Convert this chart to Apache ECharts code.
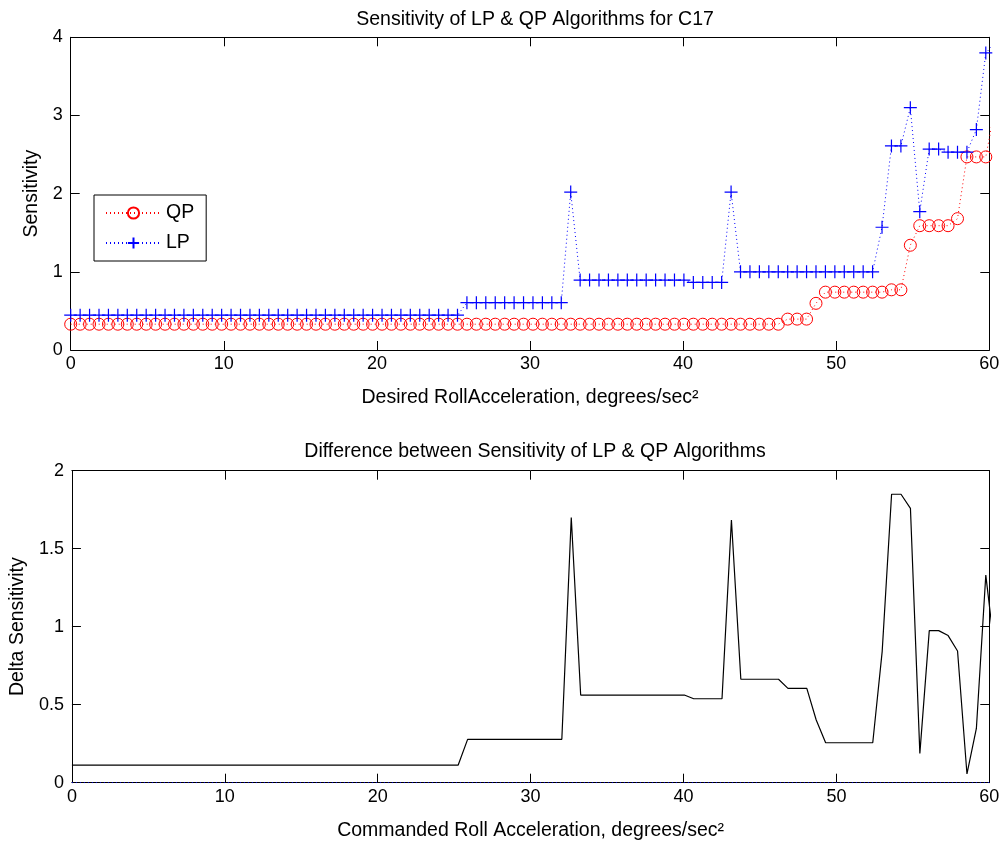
<!DOCTYPE html>
<html>
<head>
<meta charset="utf-8">
<script src="https://cdn.jsdelivr.net/npm/echarts@6/dist/echarts.min.js"></script>
<style>
html,body{margin:0;padding:0;background:#fff;}
#chart{width:1005px;height:846px;}
</style>
</head>
<body>
<div id="chart"></div>
<script>
// ---- data ----
const xValues = [
  0, 0.616, 1.232, 1.849, 2.465, 3.081, 3.697, 4.313, 4.930, 5.546,
  6.162, 6.778, 7.394, 8.011, 8.627, 9.243, 9.859, 10.475, 11.092, 11.708,
  12.324, 12.940, 13.556, 14.173, 14.789, 15.405, 16.021, 16.637, 17.254, 17.870,
  18.486, 19.102, 19.718, 20.335, 20.951, 21.567, 22.183, 22.799, 23.416, 24.032,
  24.648, 25.264, 25.880, 26.497, 27.113, 27.729, 28.345, 28.961, 29.578, 30.194,
  30.810, 31.426, 32.042, 32.659, 33.275, 33.891, 34.507, 35.123, 35.740, 36.356,
  36.972, 37.588, 38.204, 38.821, 39.437, 40.053, 40.669, 41.285, 41.902, 42.518,
  43.134, 43.750, 44.366, 44.983, 45.599, 46.215, 46.831, 47.447, 48.064, 48.680,
  49.296, 49.912, 50.528, 51.145, 51.761, 52.377, 52.993, 53.609, 54.226, 54.842,
  55.458, 56.074, 56.690, 57.307, 57.923, 58.539, 59.155, 59.771, 60.388
];
const qpValues = [
  0.33, 0.33, 0.33, 0.33, 0.33, 0.33, 0.33, 0.33, 0.33, 0.33,
  0.33, 0.33, 0.33, 0.33, 0.33, 0.33, 0.33, 0.33, 0.33, 0.33,
  0.33, 0.33, 0.33, 0.33, 0.33, 0.33, 0.33, 0.33, 0.33, 0.33,
  0.33, 0.33, 0.33, 0.33, 0.33, 0.33, 0.33, 0.33, 0.33, 0.33,
  0.33, 0.33, 0.33, 0.33, 0.33, 0.33, 0.33, 0.33, 0.33, 0.33,
  0.33, 0.33, 0.33, 0.33, 0.33, 0.33, 0.33, 0.33, 0.33, 0.33,
  0.33, 0.33, 0.33, 0.33, 0.33, 0.33, 0.33, 0.33, 0.33, 0.33,
  0.33, 0.33, 0.33, 0.33, 0.33, 0.33, 0.395, 0.395, 0.395, 0.597,
  0.74, 0.74, 0.74, 0.74, 0.74, 0.74, 0.74, 0.77, 0.77, 1.34,
  1.59, 1.59, 1.59, 1.59, 1.68, 2.47, 2.47, 2.47, 3.11
];
const lpValues = [
  0.445, 0.445, 0.445, 0.445, 0.445, 0.445, 0.445, 0.445, 0.445, 0.445,
  0.445, 0.445, 0.445, 0.445, 0.445, 0.445, 0.445, 0.445, 0.445, 0.445,
  0.445, 0.445, 0.445, 0.445, 0.445, 0.445, 0.445, 0.445, 0.445, 0.445,
  0.445, 0.445, 0.445, 0.445, 0.445, 0.445, 0.445, 0.445, 0.445, 0.445,
  0.445, 0.445, 0.605, 0.605, 0.605, 0.605, 0.605, 0.605, 0.605, 0.605,
  0.605, 0.605, 0.605, 2.02, 0.895, 0.895, 0.895, 0.895, 0.895, 0.895,
  0.895, 0.895, 0.895, 0.895, 0.895, 0.895, 0.865, 0.865, 0.865, 0.865,
  2.02, 1.0, 1.0, 1.0, 1.0, 1.0, 1.0, 1.0, 1.0, 1.0,
  1.0, 1.0, 1.0, 1.0, 1.0, 1.0, 1.57, 2.61, 2.61, 3.10,
  1.77, 2.57, 2.57, 2.53, 2.53, 2.53, 2.82, 3.80, 3.93
];
const deltaValues = [
  0.113, 0.113, 0.113, 0.113, 0.113, 0.113, 0.113, 0.113, 0.113, 0.113,
  0.113, 0.113, 0.113, 0.113, 0.113, 0.113, 0.113, 0.113, 0.113, 0.113,
  0.113, 0.113, 0.113, 0.113, 0.113, 0.113, 0.113, 0.113, 0.113, 0.113,
  0.113, 0.113, 0.113, 0.113, 0.113, 0.113, 0.113, 0.113, 0.113, 0.113,
  0.113, 0.113, 0.278, 0.278, 0.278, 0.278, 0.278, 0.278, 0.278, 0.278,
  0.278, 0.278, 0.278, 1.70, 0.562, 0.562, 0.562, 0.562, 0.562, 0.562,
  0.562, 0.562, 0.562, 0.562, 0.562, 0.562, 0.538, 0.538, 0.538, 0.538,
  1.684, 0.663, 0.663, 0.663, 0.663, 0.663, 0.605, 0.605, 0.605, 0.402,
  0.256, 0.256, 0.256, 0.256, 0.256, 0.256, 0.84, 1.849, 1.849, 1.759,
  0.188, 0.975, 0.975, 0.943, 0.844, 0.056, 0.348, 1.331, 0.816
];
const zeroRefX = [0, 60.388];
const zeroRefY = [0, 0];

const topTitle = 'Sensitivity of LP & QP Algorithms for C17';
const bottomTitle = 'Difference between Sensitivity of LP & QP Algorithms';
const topXName = 'Desired RollAcceleration, degrees/sec\u00B2';
const bottomXName = 'Commanded Roll Acceleration, degrees/sec\u00B2';
const topYName = 'Sensitivity';
const bottomYName = 'Delta Sensitivity';

// ---- styling ----
const FONT = '"Liberation Sans", Arial, Helvetica, sans-serif';
const FS = 19.5;    // titles, axis names, legend
const FT = 18;      // tick labels
const pairs = (xs, ys) => xs.map((x, i) => [x, ys[i]]);

function xAxisCfg(grid, pos, name) {
  const main = pos === 'bottom';
  return {
    type: 'value', gridIndex: grid, position: pos, min: 0, max: 60, interval: 10,
    name: main ? name : '', nameLocation: 'middle', nameGap: 38,
    nameTextStyle: {fontFamily: FONT, fontSize: FS, color: '#000'},
    axisLine: {show: true, onZero: false, lineStyle: {color: '#000', width: 1}},
    axisTick: {show: true, inside: true, length: 9, lineStyle: {color: '#000'}},
    axisLabel: {show: main, margin: 5, fontFamily: FONT, fontSize: FT, color: '#000'},
    splitLine: {show: false}
  };
}
function yAxisCfg(grid, pos, name, max, interval, gap) {
  const main = pos === 'left';
  return {
    type: 'value', gridIndex: grid, position: pos, min: 0, max: max, interval: interval,
    name: main ? name : '', nameLocation: 'middle', nameGap: gap,
    nameTextStyle: {fontFamily: FONT, fontSize: FS, color: '#000'},
    axisLine: {show: true, onZero: false, lineStyle: {color: '#000', width: 1}},
    axisTick: {show: true, inside: true, length: 9, lineStyle: {color: '#000'}},
    axisLabel: {show: main, margin: 8, fontFamily: FONT, fontSize: FT, color: '#000'},
    splitLine: {show: false}
  };
}

const chart = echarts.init(document.getElementById('chart'), null, {renderer: 'canvas'});
chart.setOption({
  backgroundColor: '#fff',
  animation: false,
  title: [
    {text: topTitle, left: 530, top: 5, textAlign: 'center',
     textStyle: {fontFamily: FONT, fontSize: FS, fontWeight: 'normal', color: '#000'}},
    {text: bottomTitle, left: 530, top: 437, textAlign: 'center',
     textStyle: {fontFamily: FONT, fontSize: FS, fontWeight: 'normal', color: '#000'}}
  ],
  legend: {
    data: ['QP', 'LP'], orient: 'vertical', left: 94, top: 195,
    padding: [8, 12, 8, 11], itemGap: 10, itemWidth: 55, itemHeight: 14,
    borderColor: '#000', borderWidth: 1, backgroundColor: '#fff',
    textStyle: {fontFamily: FONT, fontSize: FS, color: '#000'}
  },
  grid: [
    {left: 70.7, top: 37.3, right: 15.7, height: 312.7},
    {left: 70.7, top: 470.7, right: 15.7, height: 312}
  ],
  xAxis: [
    xAxisCfg(0, 'bottom', topXName), xAxisCfg(0, 'top'),
    xAxisCfg(1, 'bottom', bottomXName), xAxisCfg(1, 'top')
  ],
  yAxis: [
    yAxisCfg(0, 'left', topYName, 4, 1, 25), yAxisCfg(0, 'right', '', 4, 1),
    yAxisCfg(1, 'left', bottomYName, 2, 0.5, 43), yAxisCfg(1, 'right', '', 2, 0.5)
  ],
  series: [
    {
      name: 'QP', type: 'line', xAxisIndex: 0, yAxisIndex: 0, clip: true,
      data: pairs(xValues, qpValues),
      symbol: 'circle', symbolSize: 12, showAllSymbol: true,
      itemStyle: {color: 'rgba(0,0,0,0)', borderColor: '#ff0000', borderWidth: 1},
      lineStyle: {color: '#ff0000', width: 1, type: [1, 3]},
      emphasis: {disabled: true}
    },
    {
      name: 'LP', type: 'line', xAxisIndex: 0, yAxisIndex: 0, clip: true,
      data: pairs(xValues, lpValues),
      symbol: 'path://M5,0L5,10M0,5L10,5', symbolSize: 13, showAllSymbol: true,
      itemStyle: {color: 'rgba(0,0,0,0)', borderColor: '#0000ff', borderWidth: 1.2},
      lineStyle: {color: '#0000ff', width: 1, type: [1, 3]},
      emphasis: {disabled: true}
    },
    {
      name: 'zero', type: 'line', xAxisIndex: 2, yAxisIndex: 2, clip: true,
      data: pairs(zeroRefX, zeroRefY), symbol: 'none',
      lineStyle: {color: '#0000ff', width: 1, type: [1, 3]},
      emphasis: {disabled: true}, z: 3
    },
    {
      name: 'Delta', type: 'line', xAxisIndex: 2, yAxisIndex: 2, clip: true,
      data: pairs(xValues, deltaValues), symbol: 'none',
      lineStyle: {color: '#000', width: 1.2},
      emphasis: {disabled: true}
    }
  ]
});
</script>
</body>
</html>
